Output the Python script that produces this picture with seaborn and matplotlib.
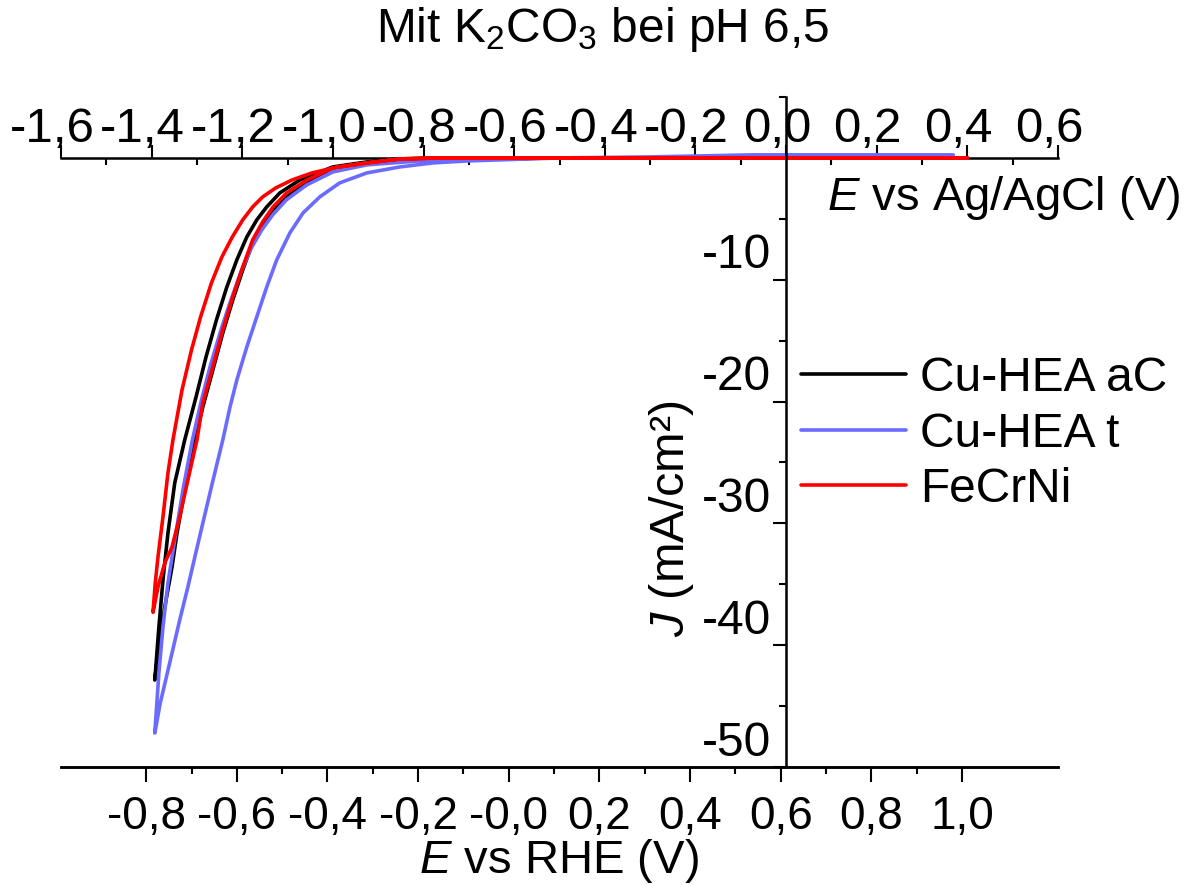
import matplotlib
matplotlib.use("Agg")
import matplotlib.pyplot as plt
import matplotlib.ticker as mticker
import matplotlib.transforms as mtransforms
import pandas as pd
import seaborn as sns

# ---- data: cyclic sweeps, potential vs Ag/AgCl (V), current density (mA/cm²) ----
cuhea_ac_E = [0.369, -0.411, -0.779, -0.925, -1.000, -1.057, -1.102, -1.132, -1.155, -1.177,
              -1.199, -1.221, -1.243, -1.265, -1.287, -1.305, -1.327, -1.344, -1.355, -1.371,
              -1.382, -1.393,
              -1.384, -1.375, -1.364, -1.349, -1.327, -1.302, -1.280, -1.257, -1.234, -1.212,
              -1.190, -1.168, -1.146, -1.117, -1.073, -1.000, -0.925, -0.852, -0.779, -0.411, 0.369]
cuhea_ac_J = [0.0, 0.0, -0.02, -0.41, -0.82, -1.97, -3.20, -4.27, -5.50, -6.98,
              -9.20, -11.66, -14.37, -17.41, -20.44, -23.15, -27.26, -30.79, -33.58, -36.86,
              -39.57, -42.86,
              -38.51, -34.65, -30.79, -26.68, -23.15, -19.62, -16.34, -13.30, -10.59, -8.37,
              -6.49, -5.09, -4.02, -2.87, -1.81, -0.74, -0.33, -0.08, 0.0, 0.0, 0.0]

cuhea_t_E = [0.369, -0.073, -0.300, -0.499, -0.631, -0.704, -0.779, -0.852, -0.925, -0.985,
             -1.029, -1.066, -1.095, -1.124, -1.146, -1.168, -1.190, -1.212, -1.227, -1.243,
             -1.266, -1.287, -1.303, -1.320, -1.338, -1.355, -1.369, -1.381, -1.389, -1.393,
             -1.384, -1.375, -1.364, -1.349, -1.331, -1.310, -1.290, -1.270, -1.247, -1.225,
             -1.203, -1.180, -1.157, -1.133, -1.103, -1.058, -1.000, -0.925, -0.779, -0.499]
cuhea_t_J = [0.25, 0.25, 0.08, 0.0, -0.16, -0.25, -0.41, -0.74, -1.23, -2.05,
             -3.20, -4.52, -6.16, -8.37, -10.59, -13.05, -15.52, -18.23, -20.44, -23.15,
             -26.68, -29.97, -32.50, -35.22, -37.93, -40.64, -42.86, -44.75, -46.39, -47.21,
             -42.28, -38.51, -34.89, -31.36, -27.26, -23.15, -19.87, -17.00, -14.12, -11.66,
             -9.36, -7.39, -5.91, -4.68, -3.45, -2.22, -1.15, -0.57, -0.16, 0.0]

fecrni_E = [0.400, 0.031, -0.411, -0.631, -0.779, -0.852, -0.925, -1.000, -1.057, -1.102,
            -1.132, -1.155, -1.177, -1.199, -1.221, -1.243, -1.265, -1.287, -1.300, -1.320,
            -1.338, -1.355, -1.371, -1.386, -1.397,
            -1.392, -1.386, -1.375, -1.364, -1.353, -1.333, -1.312, -1.292, -1.268, -1.245,
            -1.222, -1.199, -1.177, -1.155, -1.126, -1.090, -1.046, -0.988, -0.925, -0.852,
            -0.779, -0.411, 0.400]
fecrni_J = [0.0, 0.0, 0.0, 0.0, -0.02, -0.08, -0.41, -0.82, -1.81, -2.87,
            -4.02, -5.25, -6.73, -8.95, -11.41, -14.12, -17.16, -20.11, -23.15, -26.44,
            -29.47, -31.94, -33.25, -35.22, -37.30,
            -34.89, -32.76, -29.47, -25.86, -23.15, -19.05, -15.76, -13.05, -10.26, -8.13,
            -6.49, -5.09, -4.02, -3.20, -2.46, -1.81, -1.23, -0.74, -0.41, -0.10,
            -0.02, 0.0, 0.0]

samples = ["Cu-HEA aC", "Cu-HEA t", "FeCrNi"]
colors = ["#000000", "#6B6BFF", "#FF0000"]

# RHE scale offset relative to Ag/AgCl (V)
rhe_offset = 0.612

agcl_ticks = [-1.6, -1.4, -1.2, -1.0, -0.8, -0.6, -0.4, -0.2, 0.0, 0.2, 0.4, 0.6]
agcl_labels = ["-1,6", "-1,4", "-1,2", "-1,0", "-0,8", "-0,6", "-0,4", "-0,2",
               "0,0", "0,2", "0,4", "0,6"]
agcl_minor = [-1.5, -1.3, -1.1, -0.9, -0.7, -0.5, -0.3, -0.1, 0.1, 0.3, 0.5]
rhe_ticks = [-0.8, -0.6, -0.4, -0.2, 0.0, 0.2, 0.4, 0.6, 0.8, 1.0]
rhe_labels = ["-0,8", "-0,6", "-0,4", "-0,2", "-0,0", "0,2", "0,4", "0,6", "0,8", "1,0"]
rhe_minor = [-0.7, -0.5, -0.3, -0.1, 0.1, 0.3, 0.5, 0.7, 0.9]
j_ticks = [-50, -40, -30, -20, -10, 0]
j_labels = ["-50", "-40", "-30", "-20", "-10", ""]
j_minor = [-45, -35, -25, -15, -5, 5]

# ---- style ----
sns.set_style("white")
plt.rcParams["font.family"] = ["Liberation Sans", "DejaVu Sans"]
plt.rcParams["mathtext.fontset"] = "custom"
plt.rcParams["mathtext.rm"] = "Liberation Sans"
plt.rcParams["mathtext.it"] = "Liberation Sans:italic"
plt.rcParams.update({"text.color": "black", "axes.edgecolor": "black",
                     "axes.labelcolor": "black", "xtick.color": "black",
                     "ytick.color": "black"})

W, H = 1193, 885
fig = plt.figure(figsize=(W / 100, H / 100), dpi=100)
ax = fig.add_axes([61 / W, (H - 767) / H, 997 / W, 670 / H])

frames = []
for name, E, J in [(samples[0], cuhea_ac_E, cuhea_ac_J),
                   (samples[1], cuhea_t_E, cuhea_t_J),
                   (samples[2], fecrni_E, fecrni_J)]:
    frames.append(pd.DataFrame({"E": E, "J": J, "sample": name}))
df = pd.concat(frames, ignore_index=True)

sns.lineplot(data=df, x="E", y="J", hue="sample", hue_order=samples,
             palette=colors, sort=False, estimator=None, lw=2.6, ax=ax)

ax.set_xlim(-1.6, 0.6)
ax.set_ylim(-50, 5)
ax.set_xlabel("")
ax.set_ylabel("")

# spines: vertical axis at E = 0 V vs Ag/AgCl
for s in ["top", "right"]:
    ax.spines[s].set_visible(False)
ax.spines["left"].set_position(("data", 0))
ax.spines["left"].set_linewidth(1.8)
ax.spines["bottom"].set_linewidth(1.8)
ax.set_xticks([])

ax.yaxis.set_major_locator(mticker.FixedLocator(j_ticks))
ax.yaxis.set_minor_locator(mticker.FixedLocator(j_minor))
ax.set_yticklabels(j_labels)
ax.tick_params(axis="y", which="major", direction="out", length=9.5, width=1.5,
               labelsize=34.5, pad=1.5, left=True)
ax.tick_params(axis="y", which="minor", direction="out", length=5, width=1.5, left=True)

# Ag/AgCl axis drawn along J = 0
top = ax.secondary_xaxis(50 / 55)
top.set_xticks(agcl_ticks, agcl_labels)
top.xaxis.set_minor_locator(mticker.FixedLocator(agcl_minor))
top.tick_params(axis="x", which="major", direction="out", length=9.5, width=1.5,
                labelsize=35.5, pad=-5.5)
top.tick_params(axis="x", which="minor", direction="in", length=5, width=1.5)
for sp in top.spines.values():
    sp.set_linewidth(1.8)

# RHE axis at the bottom
bot = ax.secondary_xaxis("bottom", functions=(lambda x: x + rhe_offset,
                                              lambda x: x - rhe_offset))
bot.set_xticks(rhe_ticks, rhe_labels)
bot.xaxis.set_minor_locator(mticker.FixedLocator(rhe_minor))
bot.tick_params(axis="x", which="major", direction="out", length=10.5, width=1.5,
                labelsize=33, pad=10)
bot.tick_params(axis="x", which="minor", direction="out", length=5, width=1.5)
for sp in bot.spines.values():
    sp.set_linewidth(1.8)

# legend
LFS = 34.5
sns.move_legend(ax, loc="upper left", bbox_to_anchor=(801 / W, 1 - 356 / H),
                bbox_transform=fig.transFigure, frameon=False, title=None,
                fontsize=LFS, handlelength=2.2, handletextpad=0.29,
                labelspacing=0.22, borderpad=0, borderaxespad=0)
for h in ax.get_legend().get_lines():
    h.set_linewidth(2.6)

# titles
fig.text(603 / W, 1 - 30 / H, r"Mit K$_2$CO$_3$ bei pH 6,5", ha="center", va="center",
         fontsize=34.5)
fig.text(1180 / W, 1 - 198 / H, r"$E$ vs Ag/AgCl (V)", ha="right", va="center",
         fontsize=34)
fig.text(559 / W, 1 - 861 / H, r"$E$ vs RHE (V)", ha="center", va="center", fontsize=34)
fig.text(672 / W, 1 - 519 / H, r"$J$ (mA/cm²)", ha="center", va="center",
         rotation=90, fontsize=35)

# y tick labels sit a little above their tick marks
shift_y = mtransforms.ScaledTranslation(0, 0.29, fig.dpi_scale_trans)
for t in ax.yaxis.get_major_ticks():
    t.label1.set_transform(t.label1.get_transform() + shift_y)
# Ag/AgCl labels sit slightly left of their ticks
shift_x = mtransforms.ScaledTranslation(-0.09, 0, fig.dpi_scale_trans)
for t in top.xaxis.get_major_ticks():
    t.label2.set_transform(t.label2.get_transform() + shift_x)

fig.savefig("out.png", dpi=100)
